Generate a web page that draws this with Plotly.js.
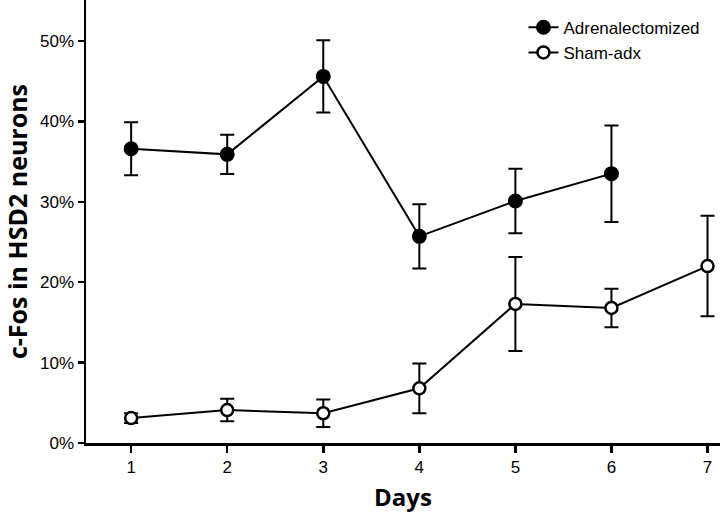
<!DOCTYPE html>
<html>
<head>
<meta charset="utf-8">
<script src="https://cdn.plot.ly/plotly-3.0.1.min.js"></script>
<style>html,body{margin:0;padding:0;background:#fff;}#chart{width:720px;height:514px;}</style>
</head>
<body>
<div id="chart"></div>
<script>
const days = [1, 2, 3, 4, 5, 6, 7];
const adxDays = [1, 2, 3, 4, 5, 6];
const adxMean = [36.6, 35.9, 45.6, 25.7, 30.1, 33.5];
const adxErr = [3.3, 2.45, 4.5, 4.0, 4.0, 6.0];
const shamMean = [3.1, 4.1, 3.7, 6.8, 17.3, 16.8, 22.0];
const shamErr = [0.6, 1.4, 1.7, 3.1, 5.85, 2.4, 6.25];
const yTicks = [0, 10, 20, 30, 40, 50];
const yTickLabels = ['0%', '10%', '20%', '30%', '40%', '50%'];

const traces = [
  {
    x: adxDays, y: adxMean, name: 'Adrenalectomized', type: 'scatter', mode: 'lines+markers',
    line: {color: '#000', width: 2},
    marker: {color: '#000', size: 13, symbol: 'circle', line: {color: '#000', width: 2}},
    error_y: {type: 'data', array: adxErr, visible: true, color: '#000', thickness: 2, width: 7}
  },
  {
    x: days, y: shamMean, name: 'Sham-adx', type: 'scatter', mode: 'lines+markers',
    line: {color: '#000', width: 2},
    marker: {color: '#fff', size: 12, symbol: 'circle', line: {color: '#000', width: 2.5}},
    error_y: {type: 'data', array: shamErr, visible: true, color: '#000', thickness: 2, width: 7}
  }
];

const layout = {
  width: 720, height: 514,
  margin: {l: 86, r: 0, t: 0, b: 71},
  paper_bgcolor: '#fff', plot_bgcolor: '#fff',
  font: {family: 'Liberation Sans, Arial, sans-serif', color: '#000', size: 17},
  showlegend: true,
  legend: {x: 0.69, y: 0.978, xanchor: 'left', yanchor: 'top', bgcolor: 'rgba(0,0,0,0)',
           font: {size: 17, family: 'Liberation Sans, Arial, sans-serif'}, tracegroupgap: 0},
  xaxis: {
    range: [0.53, 7.13], tickvals: days, ticktext: days.map(String),
    showgrid: false, zeroline: false, showline: true, linecolor: '#000', linewidth: 2.5,
    ticks: 'outside', ticklen: 7, tickwidth: 2.5, tickcolor: '#000',
    tickfont: {size: 17}, fixedrange: true,
    title: {text: '<b>Days</b>', font: {size: 24, family: 'Open Sans, sans-serif'}, standoff: 14}
  },
  yaxis: {
    range: [0, 55.1], tickvals: yTicks, ticktext: yTickLabels,
    showgrid: false, zeroline: false, showline: true, linecolor: '#000', linewidth: 2.5,
    ticks: 'outside', ticklen: 6, tickwidth: 2.5, tickcolor: '#000',
    tickfont: {size: 17}, fixedrange: true,
    title: {text: '<b>c-Fos in HSD2 neurons</b>', font: {size: 25, family: 'Open Sans, sans-serif'}, standoff: 12}
  }
};

Plotly.newPlot('chart', traces, layout, {displayModeBar: false, staticPlot: true});
</script>
</body>
</html>
